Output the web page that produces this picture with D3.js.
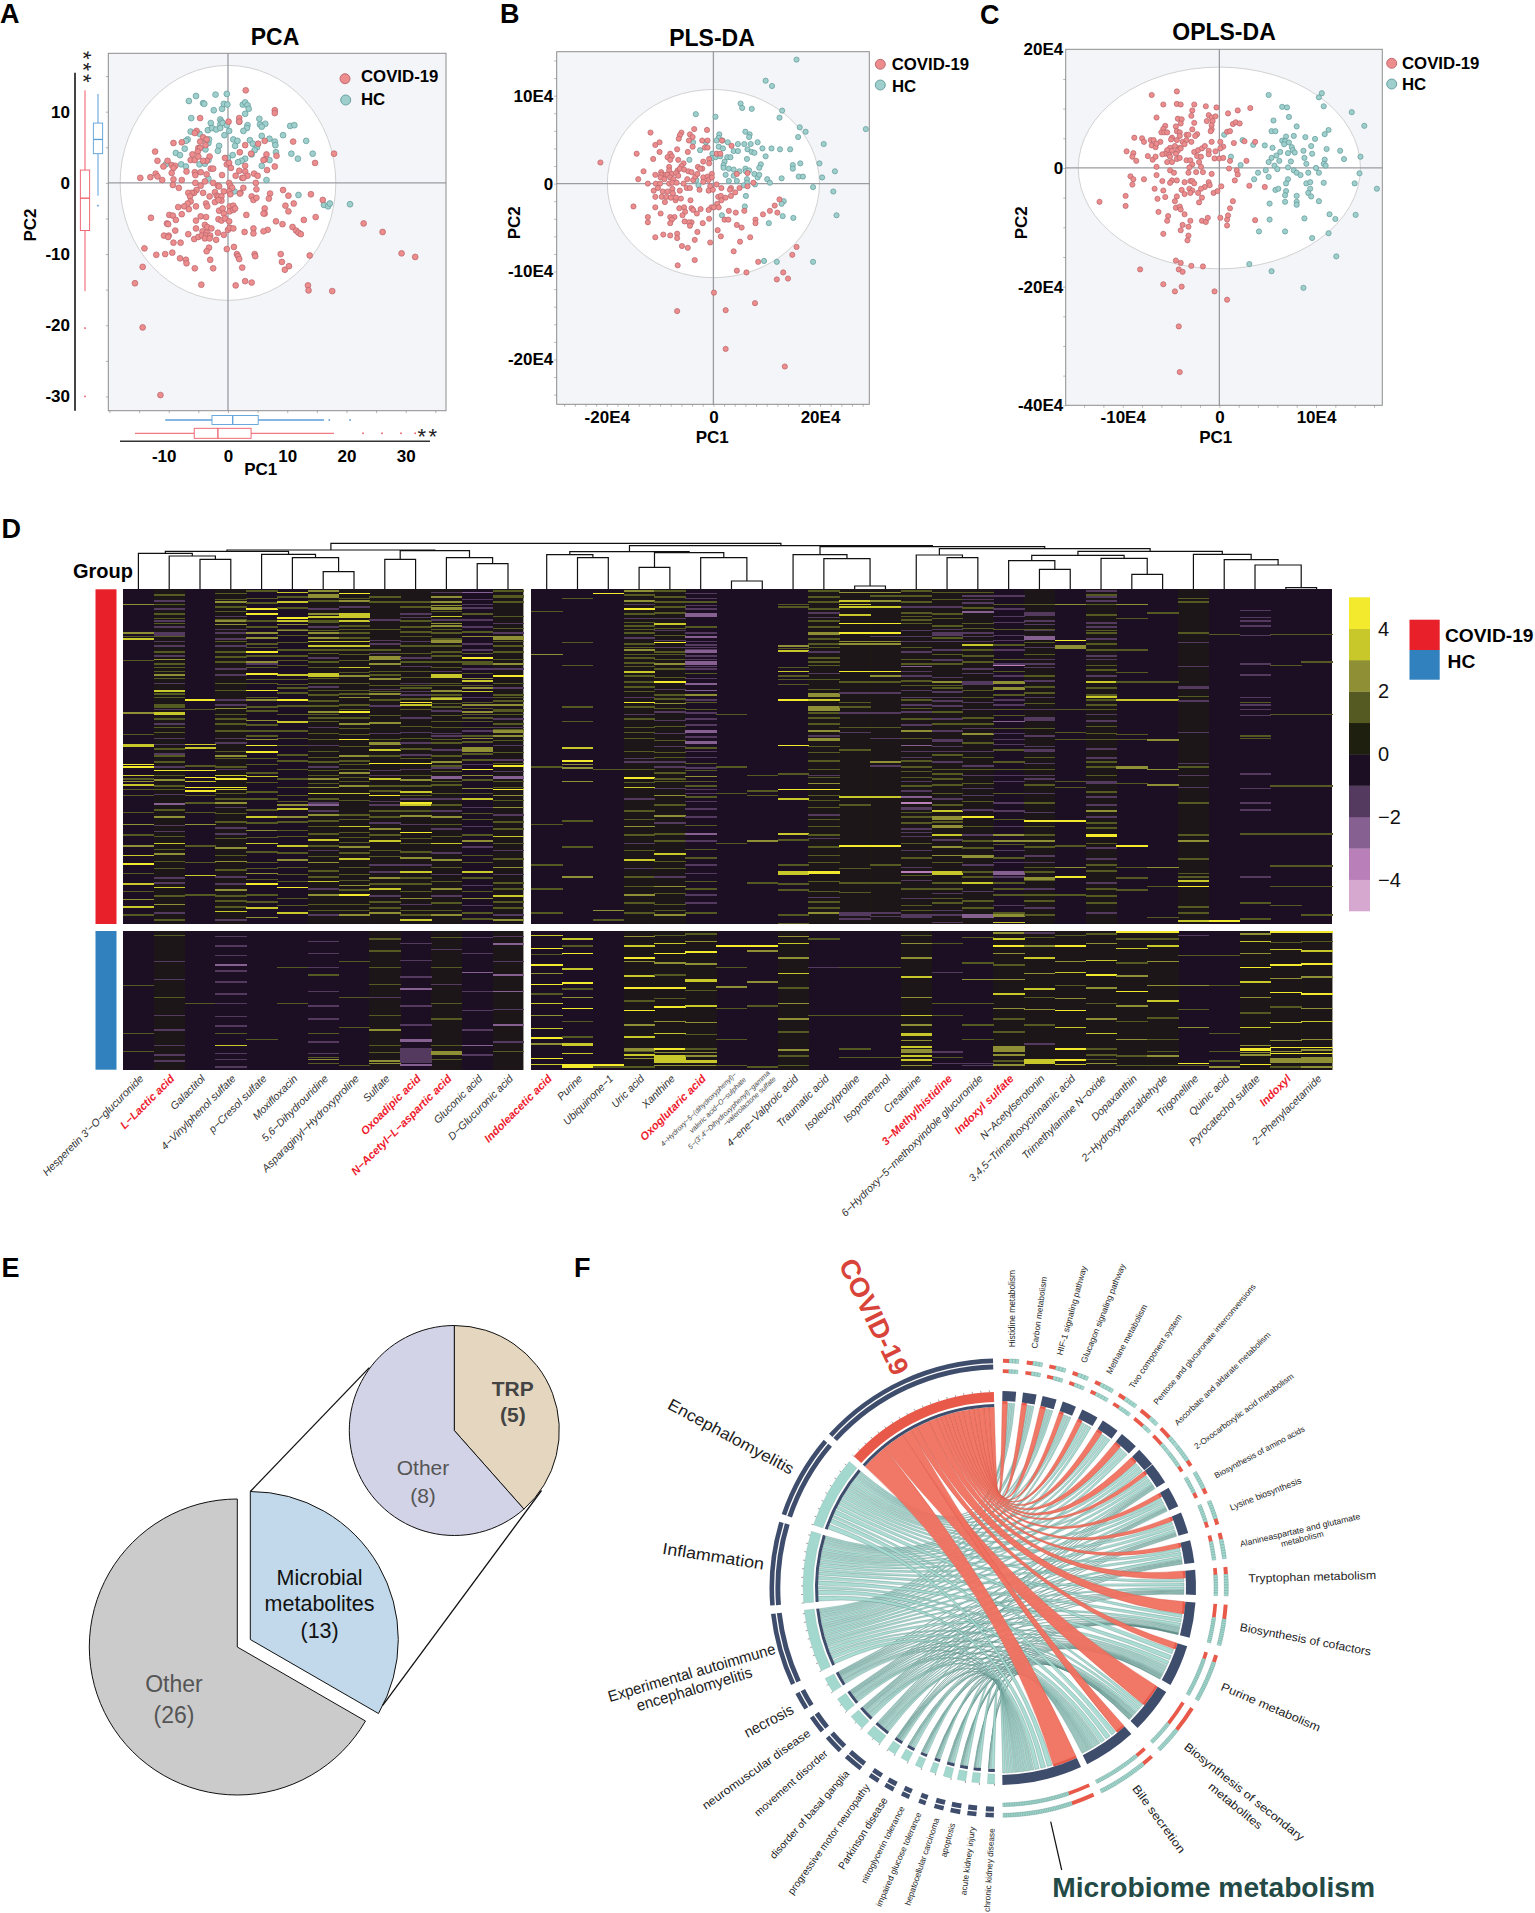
<!DOCTYPE html>
<html><head><meta charset="utf-8">
<script src="https://d3js.org/d3.v7.min.js"></script>
<style>html,body{margin:0;padding:0;background:#fff}svg{display:block}text{font-family:"Liberation Sans",Arial,sans-serif}</style>
</head><body><svg id="fig" width="1535" height="1913" viewBox="0 0 1535 1913"></svg>
<script>
// ---------- A: PCA scores (PC1, PC2)
const pcaHC=[[-6.6,11.5],[-5.4,12.2],[-4.2,11.2],[-4,11.1],[-2.1,12.4],[-.2,12.5],[-2.4,10.2],[-1,10.4],[-.7,11.1],[-.1,11],[2.5,11],[2.9,11.3],[3.3,10.9],[3.5,10.4],[2.9,9.7],[-6.2,9.1],[-6.3,7.2],[-4.8,6.9],[-2.9,8.4],[-1.3,8.9],[-1.1,8.6],[-1.3,8.2],[-.9,8.4],[-.2,8.1],[-3.4,7.4],[-2.7,7.7],[-2,7.5],[-1.3,7.7],[-.6,6.7],[.2,7.3],[1.9,8.6],[3.3,8.1],[3.2,7.7],[2.6,7.3],[5.3,9],[5.4,8.2],[6.3,8.3],[5.7,7.9],[5.7,6.6],[7,6.2],[7.9,5.8],[8,5.3],[10.5,8],[11.2,8.1],[9.3,6.7],[13.2,5.9],[10.7,4.1],[11.8,3.4],[14.3,4.1],[8.1,4.3],[7,3.2],[5.7,2.4],[6.5,.4],[3.7,6],[4.2,5.5],[4.9,5],[4.5,4.6],[4,4],[2.9,3.4],[2.3,3.1],[1.7,2.9],[.9,6.1],[1.6,5.9],[1.2,5.2],[-1.5,5.2],[-1.7,4.5],[0,3.5],[.8,3.9],[-6.8,6.1],[-7.1,5.9],[-7.3,4.8],[-8.8,4.2],[-8.1,3.9],[-7.9,2.6],[-7.1,2.3],[-10.5,2.6],[-4.8,2.6],[-3.9,2.7],[-3.3,3.2],[-3.8,4.7],[-3.3,5.6],[-3.9,6.1],[-3.2,6.1],[-3.3,.6],[1.1,-1.2],[11.9,-1.7],[16.2,-3.1],[16.9,-3.3],[17.2,-2.9],[20.6,-3]];
const pcaCOVID=[[3,13],[-4.7,9.1],[7.9,10.2],[7.9,9.8],[1.9,9.1],[1.9,8.6],[.1,8.6],[-5.3,7.3],[-5.6,7],[-4.2,6.4],[-4.7,5.8],[-3.6,6.1],[-3.8,5.3],[-5,4.9],[-4.7,4.9],[-5.1,4.4],[-9.2,5.6],[-7.8,5.7],[-12.3,4.4],[-11.9,3.1],[-10.2,3.1],[-10.9,2.3],[-9.5,2.5],[-8.9,2.4],[-9.2,2.1],[-9.5,1.4],[-7,1.6],[-6,4],[-6.3,3.2],[-5.6,3.2],[-5,3.7],[-3.1,3.7],[-3.6,3.1],[-4.2,3.1],[-12.2,1.3],[-11.9,.9],[-13.1,.8],[-14.8,.7],[-11.1,.4],[-9.2,.5],[-7.8,.4],[-9.3,-.3],[-8.3,-.7],[-5.6,1.5],[-4.6,1.5],[-5.5,1.1],[-3.6,1.2],[-2.9,2],[-2.5,2],[-5.5,0],[-3.9,.2],[-4.6,-.4],[-2.5,0],[-1.7,-.4],[-1.5,-.5],[-1,1.1],[-.5,3.5],[-.2,2.6],[.2,2.8],[.5,2.1],[1.3,1],[1.9,1.7],[2.4,.7],[2.9,2.4],[2.9,1.6],[3.3,1],[2.6,.7],[4.4,1.3],[5,1],[4.7,0],[2.9,5.3],[2,4.3],[3.9,4.1],[5.1,5.5],[6.2,5.9],[11,5.8],[8.2,3.8],[7.9,2.3],[6.5,4],[6.2,3.3],[6,3.2],[6.6,1.8],[14.7,2.8],[17.9,4.1],[9.3,-1],[10.2,-1.8],[7.1,-1.5],[6.9,-2.2],[4.8,-.9],[4,-1.9],[4.3,-2.4],[4.8,-2.1],[2.6,-.7],[2.1,-1.4],[.2,0],[.4,-.4],[.7,-.7],[.2,-1.2],[-.7,-1.2],[.4,-1.6],[2,-1.5],[-2.2,-1.3],[-1.9,-1.8],[-1.6,-1.9],[-1.1,-1.9],[-1.1,-2.5],[-2.2,-2.7],[-1.6,-2.4],[-3.7,-2.9],[-3.5,-3.3],[-3.1,-1.9],[-4.2,-1.4],[-5.3,-1],[-5.7,-1.4],[-6.1,-1.4],[-6.7,-1.4],[-6.4,-1.9],[-6.3,-2.6],[-6.8,-2.9],[-7.4,-3.3],[-8.4,-3.4],[-6.6,-3.7],[-5.4,-3.3],[-7.8,-4.4],[-9.9,-4.5],[-9.3,-4.6],[-8.8,-5.2],[-10.3,-5.7],[-10.1,-5.8],[-8.9,-6.7],[-13,-4.9],[-4.6,-4.7],[-3.7,-4.8],[-5.4,-5.3],[-5.4,-6.4],[-3.9,-5.9],[-3.5,-6.2],[-2.8,-6.4],[-4.3,-6.8],[-3.6,-7],[-1.7,-7],[-6.7,-7.2],[-10.8,-7.4],[-10,-7.4],[-10.1,-7.6],[-9.2,-8.4],[-8,-8.4],[-5.7,-7.9],[-5,-7.6],[-4.4,-7.4],[-3.7,-7.4],[-3,-7.4],[-3.9,-7.8],[-3.1,-7.8],[-2,-8],[-.7,-7.3],[0,-6.6],[.3,-6.3],[.9,-6.4],[-1.5,-3.9],[-.9,-3.6],[-.7,-4.3],[.3,-3.3],[.9,-3.2],[.3,-4],[.9,-3.8],[1.2,-3.6],[-1.6,-5.1],[-1.1,-5.3],[-.5,-5],[.2,-5.4],[3.1,-4.5],[6.2,-3.6],[6.2,-4.3],[6,-4.3],[9.7,-3.2],[11.1,-2.9],[10.2,-4],[14,-1.6],[16,-2.4],[12.8,-5.2],[14.8,-4.8],[8.1,-5.4],[9.2,-5.8],[10.9,-6.2],[11.5,-6.7],[11.9,-7],[12.3,-7.2],[6.7,-6.6],[6,-6.8],[4.3,-6.4],[4.3,-7.1],[2.8,-6.9],[-14.1,-9.2],[-12.1,-10.1],[-10.6,-10],[-9.4,-9.8],[-8.1,-10.6],[-7.1,-10.8],[-7,-11.3],[-5.6,-12],[-14.4,-11.8],[-15.7,-14.1],[-4.5,-14.3],[-3.2,-9.1],[-3.6,-9.6],[-3,-10.8],[-2.5,-12],[-.2,-9.3],[1,-9],[1.5,-10],[1.7,-10.3],[1.9,-10.7],[2.4,-11.9],[4.5,-10],[4.6,-10.3],[8.9,-10],[9.1,-11.1],[9.6,-12.2],[10.3,-11.7],[13.8,-10.2],[1.3,-14.4],[2.9,-13.8],[4,-14],[13.5,-14.4],[13.6,-15.1],[17.6,-15.2],[22.9,-5.7],[26.1,-6.9],[29.3,-9.9],[31.6,-10.4],[-14.4,-20.3],[-11.4,-29.8]];
// marginal box summaries: [whiskerLow,q1,median,q3,whiskerHigh]
const pc2BoxCovid=[-15.2,-6.7,-2.15,1.8,13], pc2BoxHC=[-1.8,4.1,6.1,8.4,12.5];
const pc2OutCovid=[-20.4,-30], pc2OutHC=[-3.2];
const pc1BoxHC=[-10.6,-2.7,.8,5.1,16.2], pc1BoxCovid=[-15.7,-5.7,-1.7,3.9,17.9];
const pc1OutHC=[17.1,20.6], pc1OutCovid=[22.8,26,29.2,31.6];
// ---------- B: PLS-DA scores (units of 1E4)
const plsHC=[[15.6,14.1],[9.8,11.7],[11,11.1],[5.1,9.1],[5.4,8.6],[7.2,8.5],[12.9,8.3],[12.4,7.5],[-3.3,7.9],[.4,7.6],[16.2,6.4],[17.3,5.9],[28.6,6.2],[15.9,5.3],[6,5.9],[6.8,5.6],[6.7,5.3],[1.1,5.6],[1,5.2],[.6,4.9],[1.7,4.9],[2.7,4.7],[4.6,4.5],[5.8,4.5],[7,4.5],[8.3,4.7],[20.7,4.5],[-3.8,4.7],[-1.4,4.7],[-2.5,3.8],[1,4.2],[1.8,4],[3.8,3.7],[4.6,3.7],[6.4,3.9],[7.2,3.6],[7.7,3.5],[9.2,4],[10.9,4],[12.5,3.9],[14.4,3.9],[9.8,3.1],[-.2,3.4],[-.3,2.9],[.4,3],[1.3,3.1],[2.6,3],[3.2,3],[6.3,2.8],[-4.5,2.7],[2.1,2.5],[1.9,2.1],[1.9,1.8],[2.9,1.7],[3.8,1.6],[4.9,1.4],[6,1.7],[6.1,1.4],[6.7,1.5],[8.9,2.2],[8.6,1.8],[14.9,2.1],[14.9,1.7],[16.3,2.3],[19.9,2.3],[22.8,1.4],[16,.8],[16.8,.8],[20.4,.7],[2.3,1],[3.8,.9],[7.7,1.1],[8.3,.7],[8.6,1],[10.1,.5],[12.8,.6],[10.6,.1],[2.9,.3],[4.4,.3],[6.3,.5],[6.3,.1],[5.7,-.2],[7.8,-.1],[-3.2,.4],[-2.8,-.2],[18.7,-.4],[22.5,-.9],[23.1,-3.6],[6.1,-1.4],[5.9,-2.6],[13.2,-2],[12.8,-2.3],[13,-3.7],[15,-3.9],[10.4,-4.5],[1.6,-3.6],[9.5,-8.8],[11.9,-8.9],[18.7,-8.9]];
const plsCOVID=[[-21.2,2.4],[-14.4,3.4],[-11.8,5.8],[-10.9,4.4],[-10.1,4.7],[-10.1,3.6],[-11.3,2.8],[-13.1,1.4],[-14.1,.5],[-12.3,0],[-15,-2.6],[-10.9,1],[-11.2,-.8],[-10.9,-1.5],[-10.9,-2.7],[-12.3,-3.8],[-12.3,-4.4],[-9.9,-3.4],[-10.9,-6.1],[-9.4,-5.8],[-8.1,-5.9],[-6.8,-5.7],[-6.8,-6.2],[-5.9,-7.1],[-4.8,-7.3],[-6.7,-9.3],[-3.5,-8.7],[-3.5,-6.4],[-3,-5.5],[-.6,-6.7],[1.4,-6],[.8,-5.3],[5,-6.6],[6.9,-6.1],[3.8,-7.7],[4.4,-9.9],[6.2,-10.1],[8.4,-8.9],[14.8,-8.1],[15.6,-7.2],[13.1,-10.1],[11.9,-10.9],[14,-10.8],[.1,-12.4],[7.8,-13.6],[2.3,-14.4],[-6.8,-14.5],[2.3,-18.8],[13.4,-20.8],[-6,5.8],[-6.3,5.5],[-6.5,5.1],[-3.6,6.2],[-4.4,5.6],[-3.9,5.3],[-4.6,4.9],[-1.2,6.1],[-2.1,4.9],[-1.1,4.9],[1.6,4.9],[3.4,4.3],[-3.9,4.2],[-1.6,4.1],[-1.1,4.1],[-6.8,3.9],[-4.8,3.6],[-8.1,3.4],[-8.6,3],[-7.8,3.1],[-8.1,2.7],[-6.6,2.7],[.6,3.4],[1.3,3.4],[-.8,2.8],[-1.9,2.5],[-.8,2.3],[-2.9,1.9],[-2.1,1.7],[-2.5,1.7],[-5.6,2.3],[-6,2],[-8.3,1.9],[-8.3,1.5],[-6.7,1.5],[-6.3,1.7],[-5.5,1.6],[-4.7,1.4],[-4.1,1.3],[-9.8,1.3],[-9.1,1],[-9.8,1],[-9.9,.7],[-9.2,.5],[-8.6,1],[-7.8,1.1],[-7,1.2],[-6.6,.9],[-8.1,.7],[-7.5,.5],[-10.8,0],[-10,0],[-8.3,0],[-7.7,.1],[-6.9,.1],[-10.4,-.5],[-9.5,-.9],[-8.6,-.9],[-7.7,-.6],[-6.3,-.8],[-7.6,-1.1],[-9.7,-1.5],[-8.8,-1.5],[-8,-1.6],[-7.1,-1.9],[-9.1,-2.1],[-7,-1.6],[-6.1,-1.7],[-4.3,-1.9],[-5.6,0],[-5,-.5],[-4.4,-.5],[-4.9,.5],[-3.8,.4],[-3.4,.8],[-3,1.1],[-1.9,.7],[-1.1,.8],[-.3,1.1],[-.9,.4],[-1.9,.2],[-.3,.7],[.6,-.1],[-.6,-.3],[-.9,-.8],[-2.6,-.7],[-.1,-.7],[1.5,-.5],[3.3,-.5],[4.1,-1],[3.3,-1.4],[4.9,-.5],[.9,-1.5],[1.4,-1.4],[1.5,-1.9],[2.3,-1.6],[3.1,-.7],[4.4,1.1],[6.4,1.2],[6.4,-.3],[7.5,.1],[12.4,-1.8],[11.5,-2.5],[10.6,-3.1],[12,-3.3],[9.3,-3.5],[7.9,-4.1],[7.9,-4.5],[5.8,-3.1],[4.2,-3.3],[2.9,-3.1],[2.1,-4.1],[2.8,-4.1],[4.4,-4.7],[5.3,-5],[.7,-2.3],[-.4,-2.7],[.1,-2.7],[1,-2.7],[-.9,-3],[-2.4,-2.9],[-4.1,-2.8],[-3.8,-3],[-5.5,-2.7],[-6.4,-2.8],[-5.3,-3.2],[-5.8,-3.6],[-3.1,-3.4],[-.8,-4],[-2,-4.5],[-4.1,-4.4],[-4.6,-4.4],[-4.4,-4.8],[-5.4,-4.3],[-8.1,-3.8],[-7.3,-3.8],[-7.8,-4.1],[-8.1,-4.5]];
// ---------- C: OPLS-DA scores (units of 1E4)
const oplsHC=[[10.6,12.6],[10.3,11.9],[5.1,12.3],[10.8,10.4],[6.5,10.3],[7,10.2],[13.7,9.4],[7.2,8.6],[5.6,8],[15,7.1],[8,7],[11.3,6.4],[5.4,6.2],[5.8,6.2],[10.9,5.7],[.5,5.6],[2.4,4.7],[3.5,3.9],[4.7,3.8],[5.5,3.4],[7.7,5.4],[6.9,5.3],[8.9,5.2],[9.9,4.9],[6.5,4.6],[6.8,4.5],[7.2,4.3],[6.7,4],[7.5,3.5],[7.6,3],[9.5,3.7],[8.7,2.9],[11.1,3.2],[12.5,2.9],[6.3,2.7],[7.1,2.5],[7.8,2.6],[9.6,2.4],[5.9,2.1],[5.4,1.7],[8.8,1.7],[14.6,1.9],[12.9,1.5],[1.2,1.9],[10.9,1.4],[5.1,1],[6.2,1.2],[7.4,1.1],[9,.7],[10.8,.7],[11,.4],[2.2,.5],[5.7,.4],[6,-.2],[7.1,.1],[10,0],[7.7,-.4],[8,-.8],[8.4,-1.2],[9.2,-.8],[10.3,-.8],[14.5,-.9],[4,-.8],[4.8,-.4],[5.1,-1.5],[3.6,-1.9],[7.1,-1.9],[6.9,-2.6],[9,-2.6],[9.4,-2.4],[10.8,-2.5],[14,-2.6],[9.4,-3.5],[9.2,-4.2],[9.5,-4.8],[16.3,-3.5],[5.8,-3.7],[6.1,-3.5],[6.9,-3.9],[6.8,-4.6],[8,-4.7],[8,-5.7],[8,-6.2],[6.8,-5.7],[5.2,-6],[10.3,-5.6],[11.4,-7.8],[14.1,-7.9],[12,-8.6],[8.8,-8.5],[5.2,-8.7],[4.1,-10.7],[6.8,-10.7],[9.6,-11.8],[11.3,-11],[12.1,-14.9],[3.1,-16.2],[5.4,-17.4],[8.7,-20.2]];
const oplsCOVID=[[-7,12.3],[-4.4,12.9],[-4.4,10.8],[-4,10.7],[-5.8,10.7],[-2.6,10.7],[-1.4,10.4],[-.3,10.2],[-2.8,9.7],[-2.9,8.8],[-1.1,8.9],[-.8,8.5],[-.4,8.7],[.9,9.2],[1.9,9.7],[3.2,10.1],[-6.5,8.5],[-4.3,8.3],[-3.9,8.2],[-4,7.5],[-2.6,7.6],[-1.3,7.9],[-.7,7.9],[-.8,7.2],[-.8,6.5],[-.9,6.2],[1.4,7.4],[1.7,7.7],[2.1,7.5],[-5.6,7.1],[-4.5,7],[-5.8,6.6],[-6,6],[-5.7,6],[-5.4,6],[-4.4,6.2],[-4.1,6],[-4.1,5.4],[-2.8,6.5],[-3.4,5.6],[-3.2,5.6],[-2.3,5.7],[-2.5,5.4],[.8,6.1],[1.1,6.2],[-4.9,5.1],[-5,4.8],[-8.8,5.1],[-8,5],[-7.8,4.4],[-7.1,4.7],[-6.8,4.7],[-6.1,4.4],[-7,3.8],[-6.6,3.5],[-6.5,4.1],[-4.4,4.7],[-3.8,4.4],[-3.4,4.7],[-2.9,4.4],[-3.6,4],[-5.1,3.4],[-4.6,3.7],[-4.1,3.4],[-5.4,3],[-4.9,2.9],[-4.3,2.9],[-4,3.3],[-5.6,2.4],[-5.2,2.2],[-4.5,2.4],[-5.9,2.3],[-9.6,2.8],[-8.9,2.5],[-9,1.9],[-8.6,1.2],[-7.4,2],[-6.9,1.4],[-6.6,1.9],[-6.5,.2],[-5.4,1],[-4.9,1],[-5.1,1.9],[-4.4,1.5],[-4.1,1.7],[-3.4,1.3],[-2.6,2.7],[-2.2,3],[-1.8,3.3],[-1.5,3.7],[-.8,4.4],[.1,4.4],[1.5,4.2],[3.7,4.4],[2.6,4.5],[.4,3.6],[.1,3.3],[-.4,2.8],[-1.1,2.9],[-1.1,2.3],[-2.3,2],[-1.9,1.9],[-3,1.3],[-2.8,.6],[-2.1,1],[-1.9,.2],[-.5,1.6],[0,1.6],[.4,1.7],[1.1,1.2],[2.8,1.2],[1,-.1],[-3.1,.1],[-5.1,-.4],[-4.7,-.8],[-3.2,-.8],[-2.4,-.7],[-1.7,-.7],[-.8,-1],[1.8,-.4],[1.9,-1.1],[-6.5,-1.2],[-9.2,-1.4],[-8.9,-1.9],[-9,-2.8],[-7.8,-1.9],[-5.9,-2.2],[-4.9,-2.1],[-5.1,-2.5],[-4.4,-2.1],[-3.6,-2.4],[-3,-2.2],[-2.8,-2.2],[-2.6,-2.6],[-1.1,-2.4],[-1.5,-3.2],[-1,-2.9],[1.6,-2.1],[.2,-3.1],[3.1,-3],[4.7,-3.2],[-6.7,-3.5],[-5.8,-3.8],[-3.9,-3.7],[-3.1,-3.5],[-2.8,-3.8],[-1.9,-3.5],[-2.2,-4.2],[-.6,-4.2],[-.2,-3.9],[-9.7,-4.7],[-6.4,-5.2],[-5.6,-4.9],[-4.4,-4.8],[-4.6,-5.6],[-3.6,-4.4],[-3,-4.2],[-1.8,-5],[-2.1,-5.8],[-12.4,-5.7],[-9.7,-6.4],[1.4,-5.6],[-4.5,-6.7],[-4.1,-6.5],[-4,-7],[-6.3,-7.4],[-3.6,-7.8],[-5.3,-8.1],[-5.4,-8.9],[-3,-8.9],[-3.8,-9.6],[-3.2,-9.9],[-4,-10.5],[-5.8,-11.1],[-3.2,-11.4],[-3.3,-12.2],[-1.8,-8.9],[-1.4,-9.1],[-1.2,-8.4],[.1,-8.4],[.8,-8.7],[.9,-8],[.8,-9.7],[1.1,-6.8],[3.7,-8.8],[-4.5,-15.6],[-4,-16],[-2.9,-16.5],[-1.7,-16.6],[-4.2,-17.1],[-3.8,-17.5],[-8.2,-17.1],[-5.8,-19.6],[-3.9,-20],[-4.6,-20.8],[-.5,-20.8],[.8,-22.2],[-4.2,-26.7],[-4.1,-34.4]];
// ---------- D: heat map
const metabolites=["Hesperetin 3'−O−glucuronide","L−Lactic acid","Galactitol","4−Vinylphenol sulfate","p−Cresol sulfate","Moxifloxacin","5,6−Dihydrouridine","Asparaginyl−Hydroxyproline","Sulfate","Oxoadipic acid","N−Acetyl−L−aspartic acid","Gluconic acid","D−Glucuronic acid","Indoleacetic acid","Purine","Ubiquinone−1","Uric acid","Xanthine","Oxoglutaric acid","","","4−ene−Valproic acid","Traumatic acid","Isoleucylproline","Isoproterenol","Creatinine","3−Methylhistidine","6−Hydroxy−5−methoxyindole glucuronide","Indoxyl sulfate","N−Acetylserotonin","3,4,5−Trimethoxycinnamic acid","Trimethylamine N−oxide","Dopaxanthin","2−Hydroxybenzaldehyde","Trigonelline","Quinic acid","Pyrocatechol sulfate","Indoxyl","2−Phenylacetamide"];
const highlighted=new Set(["L−Lactic acid","Oxoadipic acid","N−Acetyl−L−aspartic acid","Indoleacetic acid","Oxoglutaric acid","3−Methylhistidine","Indoxyl sulfate","Indoxyl"]);
const heatColors=["#d6a8d0","#b87fb9","#866090","#553a60","#1c0f24","#1e1f0e","#555a22","#8f8f36","#c8c82a","#f4ea2d"];
const colorTicks=[4,2,0,-2,-4];
const groupNames=["COVID-19","HC"];
const covidRowCount=280, hcRowCount=116;
const covidBase=[-.5,.5,-.5,.5,-.5,-.5,.5,.5,.5,.5,.5,-.5,.5,-.5,-.5,-.5,.5,.5,-.5,-.5,-.5,-.5,.5,.5,.5,.5,.5,.5,-.5,.5,-.5,.5,-.5,-.5,.5,-.5,-.5,-.5,-.5];
const hcBase=[-.5,.5,-.5,-.5,-.5,-.5,-.5,-.5,.5,-.5,.5,-.5,.5,-.5,-.5,-.5,.5,.5,.5,-.5,-.5,.5,-.5,-.5,-.5,.5,-.5,-.5,.5,.5,.5,.5,.5,.5,-.5,-.5,.5,.5,.5];
// each column: "row:value" or "row:value:rowspan"
const covidCells=[
"12:2 36:2 39:1 41:3 59:1 103:2 121:1 129:3:3 146:4 148:4 155:3 158:1 160:2 163:3 167:1 172:1 186:1 196:2 205:1 214:2 222:3 229:4 237:1 246:3 252:1 259:2 265:3 272:1",
"9:-2 16:-2 20:1 24:1 26:-2 31:-2 36:-2:3 43:-2 47:-2 52:1 58:2 62:1 65:1 71:2 74:1 84:3:2 87:1 96:1 98:1 103:3:2 108:1 112:-2 119:1 129:-2 137:-2 139:1 144:1 151:4 159:2 164:1 167:1 179:-3 190:2 197:-2 206:1 212:3 221:2 233:1 241:-2 249:3 256:1 263:2 270:-2 276:1",
"92:4 100:1 129:3 132:3 147:1 151:4 157:4 160:3 165:4 168:4 172:1 178:1 186:1 196:2 214:1 228:1 239:3 255:1",
"8:1 10:2 14:1 25:1 26:2 29:2 33:-2 36:-2 41:-2 43:1 47:-2 52:1 60:1 71:-2 78:1 92:-2 99:2 108:1 112:1 128:-2 139:2 141:1 148:1 155:3 158:4 165:4 167:3 170:1 178:2 187:1 199:-2 208:1 216:2 227:2 240:-2 251:2 260:1 269:3 276:-2",
"1:1 7:1 16:4 20:4 26:1 36:2 40:2 45:1 52:4 55:1 60:2 65:1 70:4:2 78:1 84:4 90:1 92:2 98:1 109:2 118:1 125:2 130:4 135:4:2 146:1 153:1 156:3 175:1 190:3 201:2 212:3 228:1 237:2 246:4 255:1 266:3 274:2",
"2:3 10:3 23:4:2 26:3 29:2 33:1 34:2 44:1 55:1 63:1 71:3 79:1 86:1 92:4 104:1 110:3:2 130:1 150:1 165:1 177:1 180:2 183:3 190:2 201:1 214:3 226:2 238:1 249:4 258:1 270:3",
"1:2 4:2:3 20:2 22:3:2 27:1 31:-2 36:2 40:2 43:3 47:3 53:1 60:1 65:1 70:3:3 78:1 84:1 88:1 97:1 102:2 104:1 110:1 120:1 130:-2 140:1 144:1 151:1 158:2 162:1 165:2 170:3 178:-2 180:-3 188:2 198:1 209:3 218:-2 228:2 235:1 244:3 255:2 263:1 272:-2",
"3:4 9:2 20:3:4 26:3 30:1 36:1 40:1 43:3 47:3 54:1 65:3 72:2 84:1 90:2 96:1 102:4 107:1 112:2 125:4 139:2 146:1 153:2 160:1 164:2 170:3 188:1 198:3 207:1 215:2 225:3 238:1 247:2 255:4 263:1 272:2",
"10:1 42:-2 45:-2 56:2:3 62:2 68:1 74:2:2 80:1 85:1 87:2 92:1 111:2:2 128:2:2 134:3 145:4 155:-2 158:3 164:1 172:4 177:-2 180:-2 190:1 200:2 210:3 218:1 230:-2 241:2 250:3 261:1 270:2",
"10:1 20:-2 26:1 31:1 35:1 43:-2 47:1 60:1 64:-2 68:1 78:-2 80:1 85:-2 88:-2 94:4 96:3 100:1 119:-2 124:1 128:-2 133:1 145:4 155:1 159:2 164:1 169:3 172:1 178:4 180:3 189:2 203:4 212:1 224:2 236:3 246:1 258:2 268:1 276:3",
"2:-2 6:2 10:2 13:2 15:2:2 22:3 28:2 30:2 36:1 41:1 42:2:3 52:1 60:1 65:1 71:3:3 80:1 84:2:2 88:1 90:2 91:3 98:1 105:1 115:1 120:-2 122:-2 128:1 144:2 147:1 149:-2 152:1 156:-3:3 163:1 175:-2 180:1 190:2 200:-2 212:3 226:2 238:-2 250:2 262:1 272:2",
"2:-3 8:-2 12:-2 15:-2 31:-2 39:2 50:-2 53:1 57:4 62:1 74:2 76:3 82:2 85:3 94:1 96:2 102:2 104:1 110:1 118:-2 122:1 124:2 127:1 132:2:4 142:1 150:4 155:2 166:2 175:3 187:1 198:-2 210:2 222:1 236:3 247:-2 258:2 270:1",
"1:1 5:1:2 28:-2 32:1 39:2:3 47:1 58:1 62:2 72:4 88:1 93:1 96:2 100:1:3 112:1 115:-2 117:1 118:2:2 122:2 145:1 147:4 152:-2 156:-3:3 165:1 167:4 172:2 182:2 194:1 206:3 218:-2 232:2 245:1 256:3 266:1 276:2",
"18:1 54:2 148:1 196:1 230:1 250:1 270:1",
"7:1 44:1 63:1 98:1 110:1 132:3 143:4 146:2 149:2 160:2 193:1 215:1 240:2",
"3:4 150:1 268:2 276:1",
"1:2 9:2 16:4 24:-2 27:1 30:1 36:1 45:1 50:2 54:1 57:1 61:1 68:3:2 77:1 81:1 85:1 94:4 104:-2 119:1 141:-2 144:-2 157:4:2 165:3 185:1 198:2 212:-2 226:3 240:1 255:2 270:1",
"1:1 6:1 14:1 28:3:2 32:1 34:-2 42:-2 44:4 54:1 58:1 62:2 77:4 88:1 95:2 102:-2 120:-2 131:-2 136:1 148:-2 153:1 160:1 172:2 189:2 204:1 221:3 233:1 248:2 263:1 272:2",
"3:-2 7:-2 13:-2 20:-3:3 36:-2 39:-3:2 43:-2 46:-2 50:-2 51:-3:2 55:-2 58:-2 60:-3 62:-3 66:-2 78:-3:2 84:-3 88:2 94:1 103:-2 113:-2 118:-3:2 127:-3:2 135:-2 145:1 149:-2 151:1 156:2 160:1 167:-2 170:-2 177:-2 190:-2 204:-3 217:1 230:-2 244:1 255:-2 270:1",
"104:1 148:1 170:1 212:1",
"155:1 168:1 172:1 210:2 245:1",
"12:1 14:1 47:2 49:1 51:3 65:1 68:3 72:1 75:1 79:1 92:4 130:4 154:1 167:4 175:3 204:3 209:1 230:1 236:3:3 246:1 251:1 272:1 279:1",
"1:1 6:1 19:-2 26:1 36:2:2 41:1 45:1 60:1 63:1 87:2:3 92:3 98:2:4 107:1 118:2 124:2:3 131:1 143:1 157:1 162:2 167:4 172:1 176:1 188:-2 198:1 205:1 215:1 236:4:2 252:1 261:1 270:2",
"2:2 9:3 12:3 14:3 21:3 28:4 36:4 43:2 45:2 68:4 77:1 86:-2 94:1 98:1 103:-2 115:1 119:-2 134:1 173:3 180:1 214:4 233:1 245:1 253:1 270:-2 272:-2 275:-2",
"2:2 5:1 9:2 14:3 28:4 36:4 39:-2 43:2 45:2 68:4 72:2 77:1 86:-2 103:-2 115:1 124:-2 144:2 147:-2 173:3 214:4 230:1 245:1 270:-2 273:-2",
"1:1 10:1 19:1 22:1 28:1 39:-2 43:-2 58:1 62:1 64:-3 72:-2 80:1 90:-2 92:1 102:-2 118:2 130:-3 140:-2 143:1 148:1 157:1 160:-2 173:-3 178:-4 182:-2:3 190:1 200:-2 203:-2 206:-2 218:-2 236:-4 239:1 243:-2 268:1 272:-2:3",
"2:1 24:1 30:1 36:-2:3 43:-2 58:-2:2 77:2 80:1 85:-2:2 90:-2 93:-2 102:1 108:-2 125:-2:3 131:-2 135:-2 150:1 158:1 163:1 170:1 180:1 185:3 190:2:3 197:2:3 205:3 215:2 236:3:3 245:1 250:1 258:1 268:-2 272:-2 278:-2",
"5:-2 11:-2 18:-3:2 32:1 36:-2 39:-2 46:3 50:1 66:-2 77:-2:3 94:-2 112:1 120:2:2 147:-2 150:1 162:1 166:-2 172:-2 184:-2 190:4 210:1 222:2:3 236:1 245:3 260:1 272:-3:3",
"16:-2 27:-2 38:-2 42:-2 62:-2 63:-4 77:2:2 82:2:2 92:-2 100:1 110:-3 125:-2 129:-2 150:1 155:-2 185:-2 205:2 210:2 218:-2 228:-2 236:-3:3 245:1 250:1 270:1 272:2:2 278:3",
"19:-2:3 26:-2 29:-2 33:1 39:-3:3 62:-2 65:-2 72:1 81:1 90:-2 107:-2:3 131:-2 134:-2:2 150:1 155:-2 158:-2 193:4 205:1 210:2 215:1 222:-2:2 232:1 241:2:2 243:1 255:1 272:1",
"12:2 42:4 47:2:3 100:1 119:1 125:1 160:1 165:1 193:4 214:1 232:2 240:4 255:1",
"1:-2 6:-2 12:1 27:-2:2 31:-2 36:1 45:1 55:-2 58:-2 63:1 77:3 88:1 89:3:2 92:1 100:1 109:-2:2 120:1 140:-2:2 148:1 160:-2:3 173:-2 185:2 190:-2 199:1 205:4:2 212:1 225:-2 235:1 250:1 262:1",
"12:2 24:1 50:1 69:1 77:1 92:3 121:1 125:1 148:2:2 162:1 214:4 232:1 241:1 251:1",
"19:1 77:1 92:3 125:2:2 150:2 163:2 232:2 248:1 274:1",
"7:1 10:1 36:1 44:-2 64:-2 81:-2:2 89:1 93:-2 119:-2 145:-2 148:1 155:-2 165:-2 178:1 205:1 210:2 225:1 237:1 240:1 243:3:2 248:4 265:1 270:1 277:3",
"37:1 277:4",
"17:-2 23:-2 26:-2 30:-2 38:-2 62:-2 71:-2 90:-2 94:1 96:-2 100:-2 105:-2 122:1 124:1 154:-2 166:-2 178:-2 184:-2 204:1 240:-2 262:1 275:1",
"37:1 63:1 104:1 164:1 204:1 231:1 248:1 264:1",
"37:1 60:1 104:1 164:1 204:1 231:1 248:1 272:1"];
// fainter stripes of the denser columns, by column index
const covidFaint={
1:"4:1 12:1 28:1 39:1 55:-2 68:1 78:-2 90:1 100:-2 115:1 124:-2 133:1 148:-2 155:1 171:-2 184:1 202:-2 217:1 227:1 245:-2",
3:"3:1 18:1 22:-2 56:1 66:-2 84:1 96:-2 104:1 118:1 124:-2 135:1 150:-2 175:1 182:-2 194:1 204:-2 222:1 234:1 246:-2 256:1 265:1",
4:"11:1 31:1 48:1 62:-2 75:1 101:1 113:1 122:1 141:1 161:1 169:1 184:1 195:1 207:1 219:1 233:1 242:1 261:1",
5:"6:1 15:1 38:1 50:1 59:1 75:1 82:1 97:1 118:1 124:1 138:1 143:1 158:1 172:1 194:1 206:1 220:1 232:1 244:1 264:1",
6:"9:1 16:-2 26:1 34:1 50:1 57:-2 74:1 81:-2 93:1 107:1 115:-2 125:1 135:1 148:-2 155:1 175:1 185:-2 193:1 204:1 214:1 223:1 240:1 250:-2 268:1",
7:"7:1 14:-2 33:1 50:1 59:1 69:1 78:1 87:1 100:1 116:1 121:1 131:1 143:1 150:1 157:1 176:1 192:1 203:1 211:1 220:1 232:1 243:1 251:1 268:1",
8:"6:1 25:-2 33:1 50:1 53:-2 71:1 83:-2 97:-2 105:1 120:-2 125:1 139:1 151:-2 168:1 185:1 195:-2 205:1 223:1 236:-2 246:1 256:-2 266:1",
9:"14:1 23:-2 39:1 53:1 57:-2 73:1 82:1 91:1 107:-2 114:1 138:-2 141:1 150:-2 175:-2 185:1 196:-2 208:1 219:1 230:-2 241:1 252:1 263:-2 272:1",
10:"18:1 25:-2 33:1 47:1 55:1 68:-2 78:1 95:1 101:-2 110:1 125:1 134:-2 139:1 160:1 170:1 185:-2 196:1 206:1 220:-2 232:1 244:1 256:-2 268:1",
11:"20:1 25:-2 35:1 45:-2 60:1 66:-2 70:1 80:1 90:-2 99:1 107:1 115:1 137:1 146:-2 159:1 170:1 182:-2 192:1 205:1 215:-2 228:1 241:1 252:1 264:-2 275:1",
12:"10:1 22:1 36:-2 43:1 52:1 66:-2 78:1 82:-2 90:1 104:1 108:-2 126:1 130:-2 136:1 142:-2 160:1 176:1 188:-2 200:1 212:1 225:1 238:-2 250:1 261:1 272:-2",
16:"4:1 12:-2 20:1 33:1 40:-2 48:1 64:1 72:1 90:-2 98:1 108:1 115:1 124:1 135:1 150:1 161:1 175:-2 192:1 205:1 218:1 233:-2 248:1 262:1",
17:"10:1 19:1 24:-2 38:1 48:-2 52:1 66:1 73:1 83:-2 91:1 99:1 109:-2 114:1 126:1 140:1 144:-2 158:1 166:-2 180:1 195:-2 210:1 227:1 240:-2 254:1 268:1",
18:"10:1 16:-2 31:1 48:-2 64:-2 70:1 74:-2 92:-2 100:1 108:-2 123:-2 132:1 140:-2 164:1 173:1 183:-2 197:1 210:-2 224:1 237:-2 250:1 262:-2",
22:"10:1 16:1 23:-2 31:1 48:1 52:-2 57:1 70:-2 75:1 83:1 103:1 112:1 122:-2 136:1 150:1 155:-2 182:1 192:1 208:-2 222:1 228:1 244:1 257:-2 266:1",
25:"5:1 14:-2 25:1 34:-2 48:1 52:-2 68:-2 76:1 84:-2 96:-2 99:1 108:1 113:-2 124:1 135:-2 152:1 164:1 168:-2 186:1 195:1 212:1 224:1 232:-2 250:1 258:-2 264:1",
26:"8:1 14:-2 20:1 33:-2 40:1 50:-2 54:1 62:1 73:-2 82:1 97:-2 112:1 118:-2 138:1 144:-2 154:1 175:-2 194:1 209:-2 222:2 228:1 254:-2 262:1",
27:"2:1 8:-2 15:1 28:1 43:-2 55:1 60:1 70:-2 84:1 90:1 100:-2 107:1 116:-2 128:1 135:-2 140:1 155:-2 177:1 198:1 205:-2 216:1 230:-2 240:1 252:-2 266:1",
28:"5:-2 12:1 22:-2 33:1 46:1 50:-2 58:1 68:1 72:-2 88:1 96:-2 105:1 116:1 120:-2 134:1 144:1 160:-2 170:1 178:-2 192:1 198:-2 213:1 224:1 240:-2 255:1 264:-2",
29:"12:1 34:-2 44:1 48:-2 54:1 58:-2 76:-2 86:1 95:1 100:-2 116:1 122:-2 140:1 145:-2 163:1 170:-2 178:1 186:-2 198:1 228:-2 236:1 250:-2 260:1 266:-2",
31:"4:1 9:-2 21:1 34:1 41:-2 50:1 67:1 72:-2 82:1 96:1 104:-2 114:1 125:1 133:-2 144:1 155:1 169:1 180:-2 195:1 216:-2 230:1 245:-2 256:1 270:-2"};
const hcCells=[
"45:1 85:1 100:1",
"3:1 25:-2 40:-2 55:1 70:-2 82:-2 95:-2 103:-2 108:-2",
"60:1",
"4:-2 12:-2 20:-2 28:-3 33:-2 42:-2 52:-2 60:-2 71:-2 79:-2 85:1 95:3 102:-2 107:-2 113:-2",
"90:1",
"30:1 60:1",
"8:-2 18:-2 30:-2 36:1 50:-2 62:-2 73:-2 85:1 92:-2 102:-2 105:1 107:2 110:1",
"25:1 55:1 80:1 112:1",
"6:1 16:1 30:1 44:1 55:-2 70:1 82:2 95:1 101:1 108:2 110:2",
"10:-2 24:-2 38:-2 48:-3 62:-2 78:-2 90:-3:3 98:-2:12 111:-3:2",
"5:1 15:-2 30:1 44:-2 60:1 73:1 95:1 100:2:4 107:1",
"5:-2 18:-2 34:-3 50:-2 66:-2 82:-2 95:-3 103:-2",
"4:-2 10:-3:2 25:-2 36:-3 50:-3 65:-2 78:-3 92:-2 100:1",
"3:3 14:4 19:1 28:4 35:2 44:4 52:1 60:3 70:2 81:3 89:4 94:2 106:4 111:3",
"6:3 12:1 18:4 31:3 43:4 48:1 55:2 64:4 75:1 88:1 94:3:2 102:3 111:4:2 113:4",
"111:4:2 113:1",
"4:2 12:3 22:4 25:2 37:3 47:4 58:1 66:4 78:2 88:3 98:2:2 100:1 103:3 106:2 113:1",
"3:1 10:3 18:4 26:2 36:1 47:4 56:1 63:4 75:2 85:3 98:4 101:2 104:3:5 109:3 112:2",
"2:1 8:2 17:4 27:2 40:3:3 49:1 62:3 76:2 86:1 98:1 101:2 104:2 108:3:2 112:2",
"12:4 30:1 46:2 64:1 90:1 112:1",
"12:4 16:2 42:2 62:1 113:1",
"4:2 10:3 22:2 35:3 47:1 60:2 73:2 84:1 99:2 104:1 112:1",
"6:1 30:-2 70:1",
"30:1 70:1 98:1 105:1",
"30:1 70:1 105:1",
"3:1 10:2 22:2 38:3 55:2 70:3 78:2 85:3:3 91:2 96:3:2 99:2:3 104:3 107:3:2 112:2",
"10:1 34:-2 60:1 70:1 100:-2:2 105:1 110:-2",
"5:1 26:1 40:2 60:1 78:1 90:1 110:-2 112:-2",
"1:2 6:3 12:4 18:2 28:1 40:2 52:3 64:2 73:1 84:1 96:2:5 103:2 108:1 111:2:2",
"1:-2 5:1 12:2 22:3 35:2 48:3 55:1 65:2 78:1 94:-2 107:3:4",
"3:1 12:4 25:2 34:3 45:1 56:2 66:4 80:3 98:4 107:4:2 111:3",
"2:1 10:2 24:3 36:4 47:2 60:1 73:2 85:3 98:1 103:1 107:1 110:2",
"0:4 6:1 14:3 26:1 37:2 50:4 62:2 75:1 90:2 104:1 112:1",
"0:4 6:1 12:3 25:2 45:2 58:3 72:1 90:1 100:1 104:2 112:1",
"3:-2 20:1 45:2 65:1 80:2 110:4 112:1",
"20:1 45:1 85:1 100:1 108:1 113:2",
"2:2 8:3 18:2 30:4 42:3 55:2 68:1 80:3 95:2 98:4:2 101:2 103:2 111:4",
"0:4 9:1 15:3 28:4 39:2 51:4 63:1 76:3 91:2 97:4 100:2 102:4 106:2:4 113:1",
"0:4 8:1 16:3 27:4 38:2 52:4 64:2 75:3 90:2 97:4 99:2 102:4 105:2:5 113:2"];
// dendrogram: [height,left,right]; leaves are column indices
const dendroLeft=[39.3,[38,[36,0,[33.3,1,[30,2,3]]],[35,4,[31.7,5,[17.7,6,7]]]],[38.7,[30,8,9],[31.7,10,[25.7,11,12]]]];
const dendroRight=[43.7,[37.7,[34.7,13,[31.7,14,15]],[36.7,[22,16,17],[31.7,18,[8.3,19,20]]]],[42.7,[34.7,21,[30.7,22,[3.3,23,24]]],[40.7,[34.3,25,[31.7,26,27]],[38,[34,[28.7,28,[20,29,30]],[31,31,[15,32,33]]],[35,34,[29.7,35,[24.3,36,[1.7,37,38]]]]]]]];
const dendroRoot=[46,dendroLeft,dendroRight];
// ---------- E: pies
const mainPie=[{name:"Microbial metabolites",n:13},{name:"Other",n:26}];
const subPie=[{name:"TRP",n:5},{name:"Other",n:8}];
// ---------- F: chord diagram
const diseases=["COVID-19","Encephalomyelitis","Inflammation","Experimental autoimmune encephalomyelitis","necrosis","neuromuscular disease","movement disorder","disorder of basal ganglia","progressive motor neuropathy","Parkinson disease","nitroglycerin tolerance","impaired glucose tolerance","hepatocellular carcinoma","apoptosis","acute kidney injury","chronic kidney disease"];
const diseaseSpans=[[-47.8,-1.5],[-71.2,-49.8],[-94.4,-73.2],[-115,-96.5],[-122,-117.5],[-129,-124.5],[-135.7,-131],[-142.6,-137.8],[-148,-145.4],[-152.4,-150],[-156.8,-154.7],[-161.2,-159.4],[-165.9,-163.5],[-170.2,-167.7],[-174.3,-172],[-178.7,-176.6]];
const pathways=["Histidine metabolism","Carbon metabolism","HIF-1 signaling pathway","Glucagon signaling pathway","Methane metabolism","Two component system","Pentose and glucuronate interconversions","Ascorbate and aldarate metabolism","2-Oxocarboxylic acid metabolism","Biosynthesis of amino acids","Lysine biosynthesis","Alanineaspartate and glutamate metabolism","Tryptophan metabolism","Biosynthesis of cofactors","Purine metabolism","Biosynthesis of secondary metabolites","Bile secretion","Microbiome metabolism"];
const pathwaySpans=[[1,5],[7,11],[12.8,17],[18.9,23],[25,30],[31.8,37],[38.6,44],[45.4,51],[51.2,57.5],[59.4,65.5],[67.5,73.8],[76,82.6],[84.7,92],[94.2,104.6],[107.2,119.5],[121.9,135.3],[137.8,153.4],[155.4,179]];
const covidLinks=[1.6,1.6,1.7,1.4,1.5,1.8,1.5,1.5,1.3,1.3,1.3,1.4,2.4,4,2,7,2.8,8];
// pathways in the order their ribbons leave the COVID-19 sector
const covidLinkOrder=[17,15,16,14,13,12,11,10,9,8,7,6,5,4,3,2,1,0];
// rows follow pathways, columns follow diseases 1..15
const diseaseLinks=[
[.8,.8,.8],[.8,.8,.8],[.8,.8,.9],[.9,.9,.9],[1.2,1.2,1.1],[1.1,1.1,1.2],[.8,.8,.8],[.9,.9,.8],
[1.2,1.2,1.2,.3,.3,.3,.4,.3],[1.2,1.2,1.1,.3,.3,.3,.4],[1.3,1.3,1.1,.3,.3,.3,.3],[1.3,1.3,1.1,.3,.3,.3,.4,.2],[1.4,1.4,1.1,.3,.3,.3,.4,.2],
[1.5,1.5,1.3,.5,.5,.5,.5,.2,.1,.1,.1,.1,.1],
[2,2,1.7,.7,.7,.7,.7,.4,.3,.3,.2,.3,.3,.2,.1],
[1.2,1.2,1,.3,.4,.4,.4,.2,.2,.2,.2,.2,.2,.2,.1],
[2,2,1.8,.6,.6,.7,.7,.5,.5,.4,.4,.5,.5,.5,.4],
[2.2,2.2,1.9,.8,.8,.9,.8,.8,.8,.8,.7,.9,1,1,1.2]];
const trackRedShare=[.4,.4,.4,.35,.3,.35,.55,.55,.25,.25,.25,.25,.25,.35,.15,.5,.18,.25];
const trackRedAtEnd=[0,0,0,0,0,0,0,0,1,1,1,0,0,0,0,0,0,0];
const trackCells=[3,3,3,3,4,4,2,3,7,7,7,7,8,12,22,14,25,40];

// ================= drawing =================
const svg=d3.select("#fig");
const FONT='"Liberation Sans",Arial,sans-serif';
const txt=(g,s,x,y,size,opt={})=>g.append("text").attr("x",x).attr("y",y).attr("font-size",size)
  .attr("font-weight",opt.bold?"bold":null).attr("font-style",opt.italic?"italic":null)
  .attr("text-anchor",opt.anchor||"start").attr("fill",opt.fill||"#000").attr("transform",opt.rot?`rotate(${opt.rot} ${x} ${y})`:null).text(s);

[["A",0,23],["B",500,23],["C",980,24],["D",1.5,538],["E",1.5,1277],["F",574,1277]].forEach(d=>txt(svg,d[0],d[1],d[2],27,{bold:true}));

const RED={fill:"#ec8c8c",stroke:"#b8646c"}, TEAL={fill:"#9fcfcc",stroke:"#5f9a98"};
function scatter(cfg){
  const g=svg.append("g");
  const x=d3.scaleLinear().domain(cfg.xd).range([cfg.l,cfg.r]);
  const y=d3.scaleLinear().domain(cfg.yd).range([cfg.b,cfg.t]);
  const clip="c"+cfg.title.replace(/\W/g,"");
  g.append("clipPath").attr("id",clip).append("rect").attr("x",cfg.l).attr("y",cfg.t).attr("width",cfg.r-cfg.l).attr("height",cfg.b-cfg.t);
  g.append("rect").attr("x",cfg.l).attr("y",cfg.t).attr("width",cfg.r-cfg.l).attr("height",cfg.b-cfg.t).attr("fill","#f4f5f8");
  g.append("ellipse").attr("cx",x(cfg.ec[0])).attr("cy",y(cfg.ec[1])).attr("rx",x(cfg.er[0])-x(0)).attr("ry",y(0)-y(cfg.er[1])).attr("fill","#fff").attr("stroke","#c6c6c6").attr("stroke-width",.8);
  g.append("line").attr("x1",cfg.l).attr("x2",cfg.r).attr("y1",y(0)).attr("y2",y(0)).attr("stroke","#9a9ca2").attr("stroke-width",1.3);
  g.append("line").attr("x1",x(0)).attr("x2",x(0)).attr("y1",cfg.t).attr("y2",cfg.b).attr("stroke","#9a9ca2").attr("stroke-width",1.3);
  g.append("rect").attr("x",cfg.l).attr("y",cfg.t).attr("width",cfg.r-cfg.l).attr("height",cfg.b-cfg.t).attr("fill","none").attr("stroke","#8d8d8d").attr("stroke-width",1);
  // minor tick marks
  const xm=g.append("g").attr("transform",`translate(0,${cfg.b})`).call(d3.axisBottom(x).tickValues(d3.range(Math.ceil(cfg.xd[0]/cfg.mx)*cfg.mx,cfg.xd[1],cfg.mx)).tickSize(2.5).tickFormat(""));
  const ym=g.append("g").attr("transform",`translate(${cfg.l},0)`).call(d3.axisLeft(y).tickValues(d3.range(Math.ceil(cfg.yd[0]/cfg.my)*cfg.my,cfg.yd[1],cfg.my)).tickSize(2.5).tickFormat(""));
  [xm,ym].forEach(a=>{a.select(".domain").remove();a.selectAll("line").attr("stroke","#888").attr("stroke-width",.6)});
  // tick labels
  const xa=g.append("g").attr("transform",`translate(0,${cfg.xlabY-12})`).call(d3.axisBottom(x).tickValues(cfg.xt).tickSize(0).tickPadding(0).tickFormat(cfg.fmt));
  const ya=g.append("g").attr("transform",`translate(${cfg.ylabX},0)`).call(d3.axisLeft(y).tickValues(cfg.yt).tickSize(0).tickPadding(0).tickFormat(cfg.fmt));
  [xa,ya].forEach(a=>{a.select(".domain").remove();a.selectAll("text").attr("font-size",17).attr("font-weight","bold").attr("font-family",FONT).attr("fill","#000")});
  if(cfg.negDx) xa.selectAll("text").filter(d=>d<0).attr("dx",cfg.negDx);
  const pts=g.append("g").attr("clip-path",`url(#${clip})`);
  [[cfg.hc,TEAL],[cfg.cv,RED]].forEach(([data,c])=>{
    pts.selectAll(null).data(data).join("circle").attr("cx",d=>x(d[0])).attr("cy",d=>y(d[1])).attr("r",cfg.pr).attr("fill",c.fill).attr("stroke",c.stroke).attr("stroke-width",.7);
  });
  txt(g,cfg.title,cfg.titleX,cfg.titleY,23,{bold:true,anchor:"middle"});
  txt(g,"PC1",cfg.pc1[0],cfg.pc1[1],17,{bold:true,anchor:"middle"});
  txt(g,"PC2",cfg.pc2[0],cfg.pc2[1],17,{bold:true,anchor:"middle",rot:-90});
  [[cfg.leg[0],RED,"COVID-19"],[cfg.leg[1],TEAL,"HC"]].forEach(([p,c,s])=>{
    g.append("circle").attr("cx",p[0]).attr("cy",p[1]).attr("r",cfg.lr).attr("fill",c.fill).attr("stroke",c.stroke).attr("stroke-width",.9);
    txt(g,s,p[2],p[3],16.8,{bold:true});
  });
  return {x,y,g};
}
const fmtE=d=>d===0?"0":d+"E4";
const A=scatter({title:"PCA",l:108.3,r:446,t:53.3,b:410.7,xd:[-20.2,36.8],yd:[-32,18.2],ec:[0,0],er:[18.2,16.5],mx:5,my:5,xt:[-10,0,10,20,30],yt:[10,0,-10,-20,-30],fmt:d=>d,negDx:-5,xlabY:461.7,ylabX:70,hc:pcaHC,cv:pcaCOVID,pr:2.9,titleX:275,titleY:45,pc1:[260.7,475],pc2:[36,225],lr:5,leg:[[345,78.7,361,82.3],[345.7,100,361,105]]});
scatter({title:"PLS-DA",l:556.7,r:869.3,t:51.7,b:404.3,xd:[-29.4,29.25],yd:[-25.1,15],ec:[0,0],er:[19.9,10.7],mx:2,my:2,xt:[-20,0,20],yt:[10,0,-10,-20],fmt:fmtE,xlabY:423,ylabX:553.3,hc:plsHC,cv:plsCOVID,pr:2.6,titleX:712,titleY:45.7,pc1:[712.3,443],pc2:[520,222.7],lr:5,leg:[[880.3,64.3,891.7,70.3],[880.3,85,892,92]]});
scatter({title:"OPLS-DA",l:1065.7,r:1382.3,t:49.3,b:405.3,xd:[-15.9,16.86],yd:[-40,20],ec:[0,0],er:[14.6,17],mx:2,my:5,xt:[-10,0,10],yt:[20,0,-20,-40],fmt:fmtE,xlabY:423,ylabX:1063.3,hc:oplsHC,cv:oplsCOVID,pr:2.6,titleX:1224,titleY:40,pc1:[1215.7,443],pc2:[1026.7,222.7],lr:5,leg:[[1391.7,63.3,1402,69],[1391.7,84,1402,89.7]]});

// marginal box plots of panel A
function vBox(cx,b,out,color,w){
  const g=A.g.append("g").attr("stroke",color).attr("fill","none");
  g.append("line").attr("x1",cx).attr("x2",cx).attr("y1",A.y(b[0])).attr("y2",A.y(b[4])).attr("stroke-width",1);
  g.append("rect").attr("x",cx-w/2).attr("width",w).attr("y",A.y(b[3])).attr("height",A.y(b[1])-A.y(b[3])).attr("fill","#fff").attr("stroke-width",.9);
  g.append("line").attr("x1",cx-w/2).attr("x2",cx+w/2).attr("y1",A.y(b[2])).attr("y2",A.y(b[2])).attr("stroke-width",1.3);
  A.g.selectAll(null).data(out).join("rect").attr("x",cx-.8).attr("y",d=>A.y(d)-.8).attr("width",1.6).attr("height",1.6).attr("fill",color);
}
function hBox(cy,b,out,color,w,lw){
  const g=A.g.append("g").attr("stroke",color).attr("fill","none");
  g.append("line").attr("y1",cy).attr("y2",cy).attr("x1",A.x(b[0])).attr("x2",A.x(b[4])).attr("stroke-width",lw);
  g.append("rect").attr("y",cy-w/2).attr("height",w).attr("x",A.x(b[1])).attr("width",A.x(b[3])-A.x(b[1])).attr("fill","#fff").attr("stroke-width",.9);
  g.append("line").attr("y1",cy-w/2).attr("y2",cy+w/2).attr("x1",A.x(b[2])).attr("x2",A.x(b[2])).attr("stroke-width",1.3);
  A.g.selectAll(null).data(out).join("rect").attr("x",d=>A.x(d)-.8).attr("y",cy-.8).attr("width",1.6).attr("height",1.6).attr("fill",color);
}
vBox(85,pc2BoxCovid,pc2OutCovid,"#ee5a66",9.3);
vBox(98,pc2BoxHC,pc2OutHC,"#5c9fd8",9.3);
hBox(420,pc1BoxHC,pc1OutHC,"#5c9fd8",9,1.4);
hBox(433.3,pc1BoxCovid,pc1OutCovid,"#ee5a66",10,1);
A.g.append("line").attr("x1",75).attr("x2",75).attr("y1",72.7).attr("y2",410.7).attr("stroke","#444").attr("stroke-width",2);
A.g.append("line").attr("x1",120).attr("x2",430).attr("y1",441.3).attr("y2",441.3).attr("stroke","#333").attr("stroke-width",1.4);
A.g.append("text").attr("transform","translate(75.5,51) rotate(90)").attr("font-size",22).attr("letter-spacing",3).attr("fill","#222").text("***");
A.g.append("text").attr("x",417.5).attr("y",444).attr("font-size",22).attr("letter-spacing",2.5).attr("fill","#222").text("**");

// ---------- D
const colL=d3.scaleBand().domain(d3.range(13)).range([123,523.4]);
const colR=d3.scaleBand().domain(d3.range(13,39)).range([531.3,1332]);
const colBand=i=>i<13?colL(i):colR(i);
const colMid=i=>colBand(i)+colL.bandwidth()/2;
const heatColor=d3.scaleQuantize().domain([-5,5]).range(heatColors);
const parseCells=s=>s.split(" ").map(t=>t.split(":").map(Number));
function heat(cells,base,rows,top,bottom){
  const g=svg.append("g").attr("shape-rendering","crispEdges");
  const y=d3.scaleLinear().domain([0,rows]).range([top,bottom]);
  const h=y(1)-y(0);
  g.append("rect").attr("x",colBand(0)).attr("y",top).attr("width",colL.bandwidth()*13).attr("height",bottom-top).attr("fill",heatColor(-.5));
  g.append("rect").attr("x",colBand(13)).attr("y",top).attr("width",colL.bandwidth()*26).attr("height",bottom-top).attr("fill",heatColor(-.5));
  base.forEach((b,i)=>{ if(b>=0) g.append("rect").attr("x",colBand(i)).attr("y",top).attr("width",colL.bandwidth()+.5).attr("height",bottom-top).attr("fill",heatColor(b)).attr("fill-opacity",.45); });
  cells.forEach((s,i)=>{
    g.selectAll(null).data(parseCells(s)).join("rect").attr("x",colBand(i)).attr("width",colL.bandwidth()+.5)
      .attr("y",d=>y(d[0])).attr("height",d=>Math.max(1.5,h*(d[2]||1))).attr("fill",d=>heatColor(d[1]));
  });
}
const covidAll=covidCells.map((s,i)=>covidFaint[i]?covidFaint[i]+" "+s:s);
heat(covidAll,covidBase,covidRowCount,589.3,924);
heat(hcCells,hcBase,hcRowCount,931,1069.7);
svg.append("rect").attr("x",95.5).attr("y",589.3).attr("width",21).attr("height",334.7).attr("fill","#e8202a");
svg.append("rect").attr("x",95.5).attr("y",931).attr("width",21).attr("height",138.7).attr("fill","#3081bd");
txt(svg,"Group",73,578,20,{bold:true});
// dendrogram
const dy=d3.scaleLinear().domain([0,46]).range([589.3,543.3]);
const dg=svg.append("g").attr("fill","none").attr("stroke","#111").attr("stroke-width",1.2);
function walk(n){
  if(typeof n==="number") return {x:colMid(n),h:0};
  const a=walk(n[1]),b=walk(n[2]);
  dg.append("path").attr("d",`M${a.x},${dy(a.h)}V${dy(n[0])}H${b.x}V${dy(b.h)}`);
  return {x:(a.x+b.x)/2,h:n[0]};
}
walk(dendroRoot);
// labels below the heat map
const lab=svg.append("g");
metabolites.forEach((m,i)=>{ if(!m) return;
  const red=highlighted.has(m), x=colMid(i)+3.5, y=1077;
  txt(lab,m,x,y,red?11.2:10.6,{italic:true,bold:red,anchor:"end",fill:red?"#ee1c2e":"#333",rot:-45}).attr("dy",".3em");
});
function along(g,s,x0,y0,x1,y1,size,opt={}){
  const a=Math.atan2(y1-y0,x1-x0)*180/Math.PI, len=Math.hypot(x1-x0,y1-y0);
  g.append("text").attr("transform",`translate(${x0},${y0}) rotate(${a})`).attr("dy",".35em").attr("font-size",size)
   .attr("font-weight",opt.bold?"bold":null).attr("font-style",opt.italic?"italic":null).attr("fill",opt.fill||"#222")
   .attr("textLength",len).attr("lengthAdjust","spacingAndGlyphs").text(s);
}
along(lab,"4−Hydroxy−5−(dihydroxyphenyl)−",661.7,1145,735.3,1073.3,7.3,{italic:true,fill:"#444"});
along(lab,"valeric acid−O−sulphate",690.5,1131.7,744.8,1078.3,7.3,{italic:true,fill:"#444"});
along(lab,"5−(3',4'−Dihydroxyphenyl)−gamma",689,1148,768.7,1071.7,7.3,{italic:true,fill:"#444"});
along(lab,"−valerolactone sulfate",724,1125,774.6,1077.7,7.3,{italic:true,fill:"#444"});
// colour bar
const cbY=d3.scaleLinear().domain([5,-5]).range([597.3,911]);
const cb=svg.append("g");
d3.range(10).forEach(i=>{const lo=-5+i;cb.append("rect").attr("x",1349).attr("width",21).attr("y",cbY(lo+1)).attr("height",cbY(lo)-cbY(lo+1)+.3).attr("fill",heatColors[i])});
colorTicks.forEach(t=>txt(cb,(t<0?"−":"")+Math.abs(t),1378,cbY(t)+7,20,{fill:"#111"}));
svg.append("rect").attr("x",1409.5).attr("y",619.7).attr("width",30.2).attr("height",30.3).attr("fill","#e8202a");
svg.append("rect").attr("x",1409.5).attr("y",650).attr("width",30.2).attr("height",29.7).attr("fill","#3081bd");
txt(svg,groupNames[0],1445,641.7,19.2,{bold:true});
txt(svg,groupNames[1],1447.6,668.3,19.2,{bold:true});

// ---------- E
const pieGen=d3.pie().sort(null).value(d=>d.n);
const E=svg.append("g").attr("stroke","#111").attr("stroke-width",1);
const mainArc=d3.arc().innerRadius(0).outerRadius(148);
const [mS1,mS2]=pieGen(mainPie);
E.append("path").attr("transform","translate(237.3,1647)").attr("d",mainArc(mS2)).attr("fill","#cbcbcc");
E.append("path").attr("transform","translate(250.3,1639.5)").attr("d",mainArc(mS1)).attr("fill","#c1d9ea");
const subArc=d3.arc().innerRadius(0).outerRadius(105);
const [sS1,sS2]=pieGen(subPie);
E.append("path").attr("transform","translate(454.3,1430.5)").attr("d",subArc(sS1)).attr("fill","#e5d7bf");
E.append("path").attr("transform","translate(454.3,1430.5)").attr("d",subArc(sS2)).attr("fill","#d2d3e7");
E.append("line").attr("x1",250.3).attr("y1",1491.5).attr("x2",369.3).attr("y2",1367.6).attr("stroke-width",1.3);
E.append("line").attr("x1",382.7).attr("y1",1705.4).attr("x2",541.5).attr("y2",1490.5).attr("stroke-width",1.3);
const etext=svg.append("g");
txt(etext,mainPie[1].name,174,1692,23,{anchor:"middle",fill:"#555"});
txt(etext,`(${mainPie[1].n})`,174,1722.8,23,{anchor:"middle",fill:"#555"});
txt(etext,"Microbial",319.6,1585,21.5,{anchor:"middle",fill:"#111"});
txt(etext,"metabolites",319.6,1611,21.5,{anchor:"middle",fill:"#111"});
txt(etext,`(${mainPie[0].n})`,319.6,1637.7,21.5,{anchor:"middle",fill:"#111"});
txt(etext,subPie[0].name,512.8,1396,21,{anchor:"middle",bold:true,fill:"#444"});
txt(etext,`(${subPie[0].n})`,512.8,1422.4,21,{anchor:"middle",bold:true,fill:"#444"});
txt(etext,subPie[1].name,423,1475,21,{anchor:"middle",fill:"#555"});
txt(etext,`(${subPie[1].n})`,423,1502.7,21,{anchor:"middle",fill:"#555"});

// ---------- F
const F=svg.append("g").attr("transform","translate(999,1588)");
const rad=d=>d*Math.PI/180;
const NAVY="#3f4d6c", CRED="#e9594a", CTEAL="#a3d8cf";
const arcAt=(r0,r1,a0,a1)=>d3.arc()({innerRadius:r0,outerRadius:r1,startAngle:rad(a0),endAngle:rad(a1)});
// chord layout: position of every link inside its two sectors
const links=[];
const n=diseases.length,m=pathways.length;
const val=(p,d)=>d===0?covidLinks[p]:(diseaseLinks[p][d-1]||0);
const dTotal=d3.range(n).map(d=>d3.sum(d3.range(m),p=>val(p,d)));
const pTotal=d3.range(m).map(p=>d3.sum(d3.range(n),d=>val(p,d)));
const dCursor=diseaseSpans.map(s=>s[0]), pCursor=pathwaySpans.map(s=>s[0]);
const src={};
d3.range(n).forEach(d=>{ const s=diseaseSpans[d];
  (d===0?covidLinkOrder:d3.range(m-1,-1,-1)).forEach(p=>{const v=val(p,d); if(!v) return;
    const w=v/dTotal[d]*(s[1]-s[0]); src[p+"_"+d]=[dCursor[d],dCursor[d]+w]; dCursor[d]+=w;});
});
d3.range(m).forEach(p=>{ const s=pathwaySpans[p];
  d3.range(n).forEach(d=>{const v=val(p,d); if(!v) return;
    const w=v/pTotal[p]*(s[1]-s[0]);
    links.push({d,p,a:src[p+"_"+d],b:[pCursor[p],pCursor[p]+w]}); pCursor[p]+=w;});
});
const ribbon=d3.ribbon().sourceRadius(180.7).targetRadius(185);
const ribAttr=(l,k=1)=>{
  const shrink=s=>{const c=(s[0]+s[1])/2,h=(s[1]-s[0])/2*k;return {startAngle:rad(c-h),endAngle:rad(c+h)}};
  return ribbon({source:shrink(l.a),target:shrink(l.b)});
};
F.append("g").selectAll("path").data(links.filter(l=>l.d>0)).join("path").attr("d",l=>ribAttr(l,.72)).attr("fill","#a5dad0").attr("fill-opacity",.92).attr("stroke","#4f807a").attr("stroke-opacity",.85).attr("stroke-width",.4);
F.append("g").selectAll("path").data(links.filter(l=>l.d===0)).join("path").attr("d",l=>ribAttr(l)).attr("fill","#f0705f").attr("fill-opacity",.95).attr("stroke","#c9513f").attr("stroke-width",.35);
// thin coloured ends at the pathway side
F.append("g").selectAll("path").data(links.filter(l=>l.d===0)).join("path").attr("d",l=>arcAt(184.5,187,l.b[0],l.b[1])).attr("fill",CRED);
// sector rings
diseaseSpans.forEach((s,i)=>{
  F.append("path").attr("d",arcAt(186,196,s[0],s[1])).attr("fill",i===0?CRED:CTEAL).attr("stroke",i===0?"none":"#7fb5ab").attr("stroke-width",.3);
  F.append("path").attr("d",arcAt(181,184,s[0],s[1])).attr("fill",NAVY);
  [[224.9,229.5],[218.7,223.6]].forEach(r=>F.append("path").attr("d",arcAt(r[0],r[1],s[0],s[1])).attr("fill",NAVY));
  const mid=d3.range(s[0],s[1],2.5);
  F.selectAll(null).data(mid).join("line").attr("x1",a=>196*Math.sin(rad(a))).attr("y1",a=>-196*Math.cos(rad(a))).attr("x2",a=>198*Math.sin(rad(a))).attr("y2",a=>-198*Math.cos(rad(a))).attr("stroke","#444").attr("stroke-width",.5);
});
pathwaySpans.forEach((s,i)=>{
  F.append("path").attr("d",arcAt(187,197,s[0],s[1])).attr("fill",NAVY);
  const w=s[1]-s[0], rw=w*trackRedShare[i];
  const red=trackRedAtEnd[i]?[s[1]-rw,s[1]]:[s[0],s[0]+rw];
  const tl=trackRedAtEnd[i]?[s[0],s[1]-rw]:[s[0]+rw,s[1]];
  [[225.3,229.3],[215,218.7]].forEach(r=>{
    F.append("path").attr("d",arcAt(r[0],r[1],red[0],red[1])).attr("fill",CRED);
    const cw=(tl[1]-tl[0])/trackCells[i];
    d3.range(trackCells[i]).forEach(k=>F.append("path").attr("d",arcAt(r[0],r[1],tl[0]+k*cw,tl[0]+(k+1)*cw)).attr("fill",CTEAL).attr("stroke","#4f8a82").attr("stroke-width",.3));
  });
});
// labels (start and end of each text line)
const fl=svg.append("g");
[["Encephalomyelitis",669.3,1403,793,1470,16.3],["Inflammation",662.7,1548,764,1564,16.3],
["Experimental autoimmune",608.3,1696.7,775,1648.3,15.5],["encephalomyelitis",636.7,1706,751.7,1671.7,15.5],
["necrosis",745,1733.3,792.3,1708.3,15],["neuromuscular  disease",703.3,1806.7,809,1731.7,11.5],
["movement  disorder",755.7,1814.3,826,1751.7,10.5],["disorder of basal  ganglia",771.7,1857.3,847.3,1771.7,10],
["progressive motor  neuropathy",790,1893.3,867.3,1785,10],["Parkinson  disease",840.7,1868.3,885,1798.3,10.5],
["nitroglycerin  tolerance",863.3,1882.7,902.3,1806.7,8.5],["impaired  glucose  tolerance",878.3,1906,919,1812.7,8.5],
["hepatocellular  carcinoma",907.3,1905,936.7,1818.3,8.5],["apoptosis",943.3,1856.7,952.3,1823.3,8.5],
["acute  kidney  injury",963.3,1895,972.3,1826.7,8.5],["chronic  kidney  disease",986.7,1911.7,991.7,1828.3,8.5],
["Histidine  metabolism",1011.7,1347.3,1011.7,1270,8.5],["Carbon  metabolism",1034.3,1348.3,1044,1276.7,8.5],
["HIF-1  signaling  pathway",1059.3,1355,1084,1266,8.5],["Glucagon signaling  pathway",1083.3,1362.3,1122.7,1264,8.5],
["Methane  metabolism",1108.3,1373.3,1145,1305,8.5],["Two component system",1131,1387.3,1180,1315,8.5],
["Pentose and glucuronate interconversions",1155,1403.3,1254,1285,8.2],["Ascorbate and aldarate metabolism",1175.7,1424,1269.3,1333.3,8.2],
["2-Oxocarboxylic acid metabolism",1195,1447.3,1292.7,1375,8.2],["Biosynthesis of amino acids",1215,1476,1304,1428.3,8.2],
["Lysine  biosynthesis",1230,1507.7,1301,1480,9],["Alanineaspartate  and  glutamate",1240,1544,1360,1516,8.5],["metabolism",1281,1544,1323.3,1533.3,8.5],
["Tryptophan  metabolism",1248.3,1578.3,1376,1575,11.5],["Biosynthesis  of  cofactors",1240,1626.7,1371,1651.7,11.5],
["Purine  metabolism",1221.7,1686,1320,1728,11.5],["Biosynthesis  of  secondary",1185.7,1745,1302.7,1838.3,11.5],["metabolites",1210,1785,1261,1826.7,11.5],
["Bile  secretion",1135,1786,1183,1851.7,11.5]
].forEach(d=>along(fl,d[0],d[1],d[2],d[3],d[4],d[5],{fill:"#1c1c1c"}));
along(fl,"COVID-19",846.7,1260,901.7,1373.3,27,{fill:"#d8443a",bold:true});
fl.append("line").attr("x1",1050.7).attr("y1",1821.7).attr("x2",1061.7).attr("y2",1870).attr("stroke","#111").attr("stroke-width",1.2);
txt(fl,pathways[17],1052.3,1896.7,28,{bold:true,fill:"#234a45"}).attr("textLength",322.7).attr("lengthAdjust","spacingAndGlyphs");
</script></body></html>
